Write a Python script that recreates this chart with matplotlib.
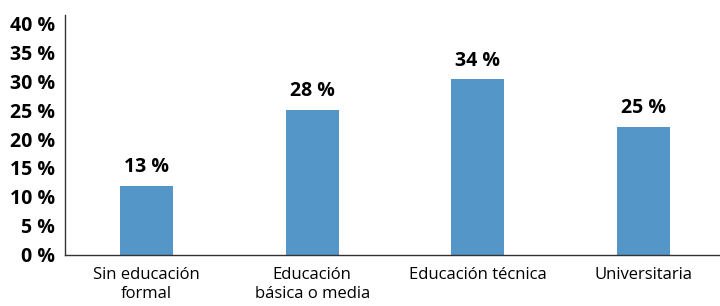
import matplotlib
matplotlib.use("Agg")
import matplotlib.pyplot as plt
from matplotlib import font_manager

categories = ["Sin educación\nformal", "Educación\nbásica o media", "Educación técnica", "Universitaria"]
bar_heights = [11.9, 25.0, 30.3, 22.1]   # alturas dibujadas
value_labels = ["13 %", "28 %", "34 %", "25 %"]
yticks = [0, 5, 10, 15, 20, 25, 30, 35, 40]

names = {f.name for f in font_manager.fontManager.ttflist}
fam = [n for n in ["Liberation Sans Narrow", "Open Sans", "DejaVu Sans"] if n in names]
plt.rcParams["font.family"] = fam

fig = plt.figure(figsize=(7.2, 3.06), dpi=100)
ax = fig.add_axes([0.0903, 0.167, 0.9097, 0.784])

x = range(len(categories))
ax.bar(x, bar_heights, width=0.32, color="#5596C8")
for i, (h, lab) in enumerate(zip(bar_heights, value_labels)):
    ax.text(i, h + 1.5, lab, ha="center", va="bottom", fontsize=14, fontweight="bold")

ax.set_xlim(-0.492, 3.461)
ax.set_ylim(0, 41.4)
ax.set_yticks(yticks)
ax.set_yticklabels([f"{v} %" for v in yticks], fontsize=14, fontweight="bold")
ax.set_xticks(list(x))
ax.set_xticklabels(categories, fontsize=12, linespacing=1.2)
ax.tick_params(axis="y", length=0, pad=7)
ax.tick_params(axis="x", length=0, pad=9)
ax.spines["top"].set_visible(False)
ax.spines["right"].set_visible(False)
for s in ("left", "bottom"):
    ax.spines[s].set_color("#333333")
    ax.spines[s].set_linewidth(1.0)

fig.savefig("out.png", dpi=100)
